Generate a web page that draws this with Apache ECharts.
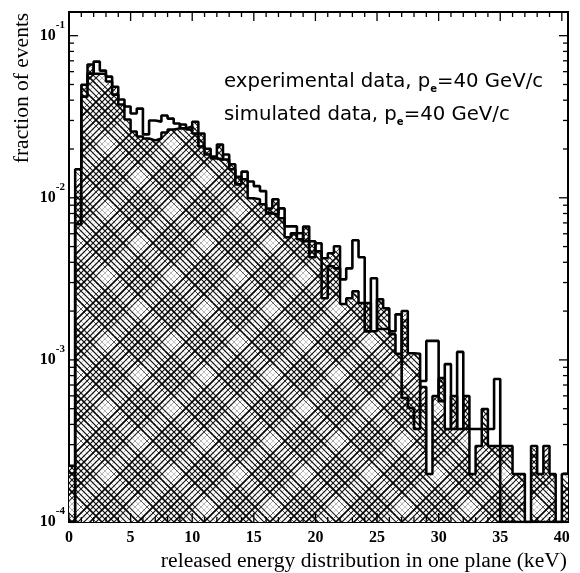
<!DOCTYPE html>
<html>
<head>
<meta charset="utf-8">
<script src="https://cdn.jsdelivr.net/npm/echarts@6/dist/echarts.min.js"></script>
<style>
html,body{margin:0;padding:0;background:#fff;}
#chart{width:580px;height:573px;}
</style>
</head>
<body>
<div id="chart"></div>
<script>
// ---- data ----
const binWidth = 0.5; // keV
const xMax = 40.5;
const yMin = 1e-4;
const yMax = 0.14;

// experimental data (thick outline, unfilled), 81 bins of 0.5 keV
const experimental = [
  0, 0.00686, 0.0421, 0.0583, 0.0692, 0.0609, 0.0559, 0.0433, 0.0404, 0.0366,
  0.0331, 0.0355, 0.0246, 0.0300, 0.0295, 0.0322, 0.0308, 0.0287, 0.0268, 0.0275,
  0.0249, 0.0207, 0.0185, 0.0175, 0.0172, 0.0185, 0.0150, 0.0121, 0.0145, 0.0126,
  0.0118, 0.0110, 0.00801, 0.00790, 0.00860, 0.00666, 0.00666, 0.00604, 0.00539, 0.00430,
  0.00524, 0.00240, 0.00378, 0.00367, 0.00314, 0.00367, 0.00547, 0.00430, 0.00150, 0.00319,
  0.00155, 0.00155, 0.00150, 0.00191, 0.000582, 0.000505, 0.000375, 0.000741, 0.00131, 0.00131,
  0.000557, 0.000942, 0.000375, 0.00112, 0.000375, 0.000375, 0.000375, 0.000375, 0.000375, 0.000762,
  0, 0, 0, 0, 0, 0, 0, 0, 0, 0,
  0
];

// simulated data (hatched), 81 bins of 0.5 keV
const simulated = [
  0.000222, 0.0150, 0.0499, 0.0663, 0.0583, 0.0583, 0.0521, 0.0485, 0.0376, 0.0304,
  0.0256, 0.0239, 0.0232, 0.0226, 0.0232, 0.0253, 0.0264, 0.0268, 0.0283, 0.0264,
  0.0295, 0.0249, 0.0201, 0.0180, 0.0213, 0.0172, 0.0161, 0.0135, 0.0130, 0.00992,
  0.00978, 0.00911, 0.00860, 0.00978, 0.00747, 0.00571, 0.00604, 0.00554, 0.00666, 0.00539,
  0.00468, 0.00423, 0.00455, 0.00502, 0.00221, 0.00240, 0.00265, 0.00224, 0.00224, 0.00150,
  0.00237, 0.00208, 0.00144, 0.00109, 0.00200, 0.00110, 0.00109, 0.000680, 0.000198, 0.000598,
  0.000773, 0.000375, 0.000598, 0.000375, 0.000598, 0.000198, 0.000294, 0.000498, 0.000294, 0.000294,
  0.000294, 0.000294, 0.000198, 0.000198, 0, 0.000294, 0.000198, 0.000294, 0.000198, 0,
  0.000198
];

const xTickLabels = [0, 5, 10, 15, 20, 25, 30, 35, 40];
const yDecades = [-4, -3, -2, -1];
const legendLines = ['experimental data, p', 'simulated data, p'];
const legendTail = '=40 GeV/c';
const xTitle = 'released energy distribution in one plane (keV)';
const yTitle = 'fraction of events';

// ---- helpers ----
function stepPoints(arr) {
  const pts = arr.map((v, i) => [i * binWidth, v > 0 ? v : yMin]);
  const last = arr[arr.length - 1];
  pts.push([arr.length * binWidth, last > 0 ? last : yMin]);
  return pts;
}

function makePlaid() {
  const T = 66, s = 6;
  const c = document.createElement('canvas');
  c.width = T; c.height = T;
  const g = c.getContext('2d');
  g.fillStyle = '#fff';
  g.fillRect(0, 0, T, T);
  const w = [1.6, 1.2, 1.2, 1.6, 1.2, 1.2, 1.6, 1.2, 0.6, 0.5, 0.9];
  const col = ['#000', '#111', '#111', '#000', '#111', '#111', '#000', '#222', '#777', '#999', '#444'];
  for (let j = -24; j <= 36; j++) {
    const cc = j * s;
    const idx = ((j % 11) + 11) % 11;
    g.strokeStyle = col[idx];
    g.lineWidth = w[idx];
    g.beginPath(); g.moveTo(cc + 150, -150); g.lineTo(cc - 150, 150); g.stroke();
    const idx2 = (((j + 4) % 11) + 11) % 11;
    g.strokeStyle = col[idx2];
    g.lineWidth = w[idx2];
    g.beginPath(); g.moveTo(cc - 150, -150); g.lineTo(cc + 150, 150); g.stroke();
  }
  return c;
}

// tick specs: [x, y, major, side]  side 0=left,1=right,2=bottom,3=top
const tickData = [];
yDecades.forEach(function (d) {
  for (let m = 1; m <= 9; m++) {
    const v = m * Math.pow(10, d);
    if (v > yMax) break;
    tickData.push([0, v, m === 1 ? 1 : 0, 0]);
    tickData.push([xMax, v, m === 1 ? 1 : 0, 1]);
  }
});
for (let k = 0; k <= 40; k++) {
  const major = (k % 5 === 0) ? 1 : 0;
  tickData.push([k, yMin, major, 2]);
  tickData.push([k, yMax, major, 3]);
}

const chart = echarts.init(document.getElementById('chart'), null, {renderer: 'canvas'});

const legendRich = {
  n: {fontFamily: 'DejaVu Sans', fontSize: 19.7, lineHeight: 24, color: '#000'},
  s: {fontFamily: 'DejaVu Sans', fontSize: 10, lineHeight: 10, verticalAlign: 'bottom', color: '#000', fontWeight: 'bold'}
};

chart.setOption({
  animation: false,
  backgroundColor: '#fff',
  grid: {left: 69, right: 12, top: 12, bottom: 51, show: true, borderColor: '#000', borderWidth: 2, backgroundColor: 'transparent'},
  xAxis: {
    type: 'value', min: 0, max: xMax, interval: 5,
    axisLine: {show: false}, axisTick: {show: false}, splitLine: {show: false},
    axisLabel: {
      margin: 8, color: '#000', fontFamily: 'Liberation Serif', fontWeight: 'bold', fontSize: 16,
      formatter: function (v) { return xTickLabels.indexOf(v) >= 0 ? String(v) : ''; }
    }
  },
  yAxis: {
    type: 'log', logBase: 10, min: yMin, max: yMax,
    axisLine: {show: false}, axisTick: {show: false}, splitLine: {show: false}, minorTick: {show: false},
    axisLabel: {
      margin: 4, color: '#000',
      formatter: function (v) {
        const l = Math.log10(v);
        const e = Math.round(l);
        if (Math.abs(l - e) > 1e-6 || yDecades.indexOf(e) < 0) return '';
        return '{a|10}{b|' + e + '}';
      },
      rich: {
        a: {fontFamily: 'Liberation Serif', fontWeight: 'bold', fontSize: 16, lineHeight: 32, color: '#000'},
        b: {fontFamily: 'Liberation Serif', fontWeight: 'bold', fontSize: 11, lineHeight: 12, verticalAlign: 'top', color: '#000'}
      }
    }
  },
  graphic: [
    {type: 'text', x: 224, y: 82, z: 10,
      style: {text: '{n|' + legendLines[0] + '}{s|e}{n|' + legendTail + '}', rich: legendRich, verticalAlign: 'middle', fill: '#000'}},
    {type: 'text', x: 224, y: 115, z: 10,
      style: {text: '{n|' + legendLines[1] + '}{s|e}{n|' + legendTail + '}', rich: legendRich, verticalAlign: 'middle', fill: '#000'}},
    {type: 'text', x: 567, y: 561, z: 10,
      style: {text: xTitle, font: '21.6px "Liberation Serif"', fill: '#000', align: 'right', verticalAlign: 'middle'}},
    {type: 'text', x: 22, y: 88, rotation: Math.PI / 2, z: 10,
      style: {text: yTitle, font: '21.5px "Liberation Serif"', fill: '#000', align: 'center', verticalAlign: 'middle'}}
  ],
  series: [
    {
      name: 'simulated', type: 'line', step: 'end', symbol: 'none', z: 2,
      data: stepPoints(simulated),
      lineStyle: {color: '#000', width: 2.5},
      areaStyle: {color: {image: makePlaid(), repeat: 'repeat'}, opacity: 1, origin: 'start'}
    },
    {
      name: 'experimental', type: 'line', step: 'end', symbol: 'none', z: 3,
      data: stepPoints(experimental),
      lineStyle: {color: '#000', width: 2.6}
    },
    {
      name: 'ticks', type: 'custom', z: 4, silent: true,
      data: tickData,
      encode: {x: 0, y: 1},
      renderItem: function (params, api) {
        const p = api.coord([api.value(0), api.value(1)]);
        const major = api.value(2), side = api.value(3);
        const L = major ? 9 : 5;
        let x2 = p[0], y2 = p[1];
        if (side === 0) x2 += L; else if (side === 1) x2 -= L; else if (side === 2) y2 -= L; else y2 += L;
        return {type: 'line', shape: {x1: p[0], y1: p[1], x2: x2, y2: y2}, style: {stroke: '#000', lineWidth: 1.3}};
      }
    }
  ]
});
</script>
</body>
</html>
